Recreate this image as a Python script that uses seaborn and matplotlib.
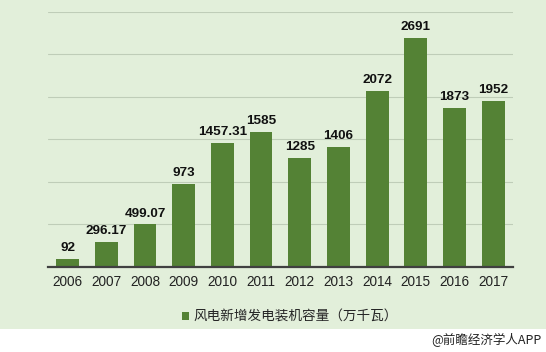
import matplotlib
matplotlib.use("Agg")
import matplotlib.pyplot as plt
from matplotlib.patches import Patch
import seaborn as sns
import pandas as pd

years = ["2006", "2007", "2008", "2009", "2010", "2011", "2012", "2013", "2014", "2015", "2016", "2017"]
values = [92, 296.17, 499.07, 973, 1457.31, 1585, 1285, 1406, 2072, 2691, 1873, 1952]
value_labels = ["92", "296.17", "499.07", "973", "1457.31", "1585", "1285", "1406", "2072", "2691", "1873", "1952"]
series_name = "风电新增发电装机容量（万千瓦）"
credit = "@前瞻经济学人APP"

sns.set_theme(style="white")
plt.rcParams['font.family'] = ['Liberation Sans', 'Noto Sans CJK SC', 'DejaVu Sans']

bar_color = "#548235"
bg_color = "#E2EFDA"

fig = plt.figure(figsize=(5.46, 3.52), dpi=100)
fig.patch.set_facecolor("white")

bg = fig.add_axes([0, (352 - 328.7) / 352, 1, 328.7 / 352], zorder=-5)
bg.set_facecolor(bg_color)
bg.set_xticks([])
bg.set_yticks([])
for s in bg.spines.values():
    s.set_visible(False)

ax = fig.add_axes([48.3 / 546, (352 - 266.8) / 352, 464.2 / 546, 255.1 / 352], zorder=1)
ax.set_facecolor("none")

df = pd.DataFrame({"year": years, "value": values})
sns.barplot(data=df, x="year", y="value", color=bar_color, saturation=1,
            width=0.59, ax=ax, zorder=3, edgecolor="none", linewidth=0)

ax.set_ylim(0, 3000)
ax.set_yticks(range(0, 3001, 500))
ax.set_yticklabels([])
ax.tick_params(axis="y", length=0)
ax.yaxis.grid(True, color="#BFCDB8", linewidth=0.8, zorder=0)
ax.set_axisbelow(True)
ax.set_xlabel("")
ax.set_ylabel("")
for s in ["top", "right", "left"]:
    ax.spines[s].set_visible(False)
ax.spines["bottom"].set_color("#404040")
ax.spines["bottom"].set_linewidth(1.6)
ax.spines["bottom"].set_zorder(4)
ax.tick_params(axis="x", length=0, labelsize=9.8, colors="#222222", pad=6)
ax.set_xlim(-0.5, len(years) - 0.5)

ax.bar_label(ax.containers[0], labels=value_labels, padding=3.5,
             fontsize=9.7, fontweight="bold", color="#111111")

handle = Patch(facecolor=bar_color, edgecolor="none")
fig.legend([handle], [series_name], loc="center left", bbox_to_anchor=(170 / 546, (352 - 317) / 352),
           frameon=False, handlelength=0.5, handleheight=0.5, handletextpad=0.35,
           prop={"family": ["Noto Sans CJK SC", "DejaVu Sans"], "size": 9.8})

fig.text(541 / 546, (352 - 340) / 352, credit, ha="right", va="center",
         fontsize=9, color="#222222", family=["Noto Sans CJK SC", "DejaVu Sans"])

fig.savefig("out.png", dpi=100, facecolor=fig.get_facecolor())
